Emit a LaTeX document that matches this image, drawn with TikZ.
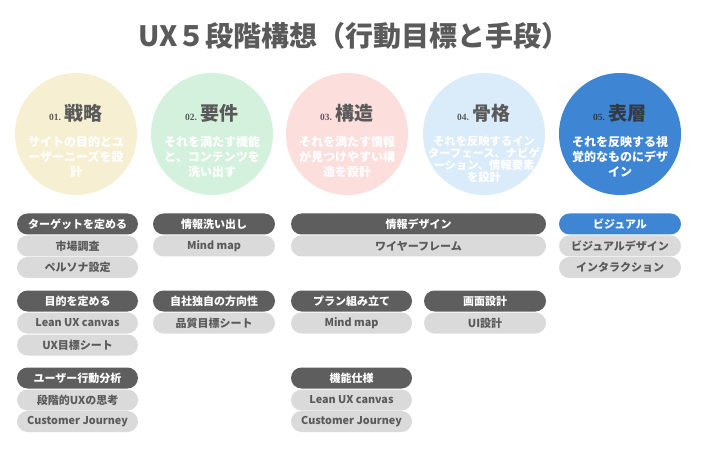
\documentclass[tikz,border=0pt]{standalone}
\usepackage{fontspec}
\newfontfamily\jp{Noto Sans CJK JP}
\newfontfamily\num{Liberation Serif}
\definecolor{cA}{HTML}{F6EFD2}
\definecolor{cB}{HTML}{D4F1DD}
\definecolor{cC}{HTML}{FCDEDC}
\definecolor{cD}{HTML}{DAEBF9}
\definecolor{cE}{HTML}{3E86D3}
\definecolor{hdrgray}{HTML}{5E5E5E}
\definecolor{pillgray}{HTML}{DADADA}
\definecolor{txtgray}{HTML}{5A5A5A}
\definecolor{darktitle}{HTML}{333A44}
\tikzset{
  x=1pt, y=-1pt,
  circ/.style={circle, minimum size=122pt, inner sep=0pt},
  ttl/.style={text=txtgray, inner sep=0pt},
  desc/.style={text=white, align=center, inner sep=0pt, font=\jp\bfseries\fontsize{12}{15}\selectfont},
  pill/.style={rounded corners=10.5pt, minimum height=21pt, inner sep=0pt},
  hdr/.style={pill, fill=hdrgray, text=white, font=\jp\bfseries\fontsize{11}{11}\selectfont},
  sub/.style={pill, fill=pillgray, text=txtgray, font=\jp\bfseries\fontsize{11}{11}\selectfont},
  subl/.style={sub, font=\jp\bfseries\fontsize{10.8}{10.8}\selectfont},
  vis/.style={pill, fill=cE, text=white, font=\jp\bfseries\fontsize{11}{11}\selectfont},
}
\newcommand{\stagettl}[2]{{\num\bfseries\fontsize{9.5}{9.5}\selectfont #1}\hspace{4pt}{\jp\bfseries\fontsize{19}{19}\selectfont #2}}
\begin{document}
\begin{tikzpicture}
\useasboundingbox (0,0) rectangle (701,454);
% title
\node[text=txtgray, font=\jp\bfseries\fontsize{28}{28}\selectfont, inner sep=0pt] (title) at (354,36) {UX５段階構想（行動目標と手段）};
% circles
\node[circ, fill=cA] (s1) at (76,134) {};
\node[circ, fill=cB] (s2) at (212,134) {};
\node[circ, fill=cC] (s3) at (347,134) {};
\node[circ, fill=cD] (s4) at (484,134) {};
\node[circ, fill=cE] (s5) at (620,134) {};
\node[ttl] (t1) at (76,113) {\stagettl{01.}{戦略}};
\node[ttl] (t2) at (212,113) {\stagettl{02.}{要件}};
\node[ttl] (t3) at (347,113) {\stagettl{03.}{構造}};
\node[ttl] (t4) at (484,113) {\stagettl{04.}{骨格}};
\node[ttl, text=darktitle] (t5) at (620,113) {\stagettl{05.}{表層}};
\node[desc] (d1) at (76,157) {サイトの目的とユ\\ーザーニーズを設\\計};
\node[desc] (d2) at (212,157) {それを満たす機能\\と、コンテンツを\\洗い出す};
\node[desc] (d3) at (347,157) {それを満たす情報\\が見つけやすい構\\造を設計};
\node[desc, font=\jp\bfseries\fontsize{11.3}{12}\selectfont] (d4) at (484,159) {それを反映するイン\\ターフェース、ナビゲ\\ーション、情報要素\\を設計};
\node[desc] (d5) at (620,157) {それを反映する視\\覚的なものにデザ\\イン};
% column 1
\node[hdr, minimum width=121pt] (a1) at (77.5,224) {ターゲットを定める};
\node[sub, minimum width=121pt] (a2) at (77.5,246) {市場調査};
\node[sub, minimum width=121pt] (a3) at (77.5,267.5) {ペルソナ設定};
\node[hdr, minimum width=121pt] (a4) at (77.5,301) {目的を定める};
\node[subl, minimum width=121pt] (a5) at (77.5,323) {Lean UX canvas};
\node[sub, minimum width=121pt] (a6) at (77.5,345) {UX目標シート};
\node[hdr, minimum width=121pt] (a7) at (77.5,378) {ユーザー行動分析};
\node[sub, minimum width=121pt] (a8) at (77.5,400) {段階的UXの思考};
\node[subl, minimum width=121pt] (a9) at (77.5,421.5) {Customer Journey};
% column 2
\node[hdr, minimum width=122pt] (b1) at (214,224) {情報洗い出し};
\node[subl, minimum width=122pt] (b2) at (214,246) {Mind map};
\node[hdr, minimum width=122pt] (b3) at (214,301) {自社独自の方向性};
\node[sub, minimum width=122pt] (b4) at (214,323) {品質目標シート};
% columns 3 and 4
\node[hdr, minimum width=255pt] (c1) at (418.5,224) {情報デザイン};
\node[sub, minimum width=255pt] (c2) at (418.5,246) {ワイヤーフレーム};
\node[hdr, minimum width=121pt] (c3) at (351.5,301) {プラン組み立て};
\node[subl, minimum width=121pt] (c4) at (351.5,323) {Mind map};
\node[hdr, minimum width=122pt] (c5) at (485,301) {画面設計};
\node[sub, minimum width=122pt] (c6) at (485,323) {UI設計};
\node[hdr, minimum width=121pt] (c7) at (351.5,378) {機能仕様};
\node[subl, minimum width=121pt] (c8) at (351.5,400) {Lean UX canvas};
\node[subl, minimum width=121pt] (c9) at (351.5,421.5) {Customer Journey};
% column 5
\node[vis, minimum width=122pt] (e1) at (620,224) {ビジュアル};
\node[sub, minimum width=122pt] (e2) at (620,246) {ビジュアルデザイン};
\node[sub, minimum width=122pt] (e3) at (620,267.5) {インタラクション};
\end{tikzpicture}
\end{document}
